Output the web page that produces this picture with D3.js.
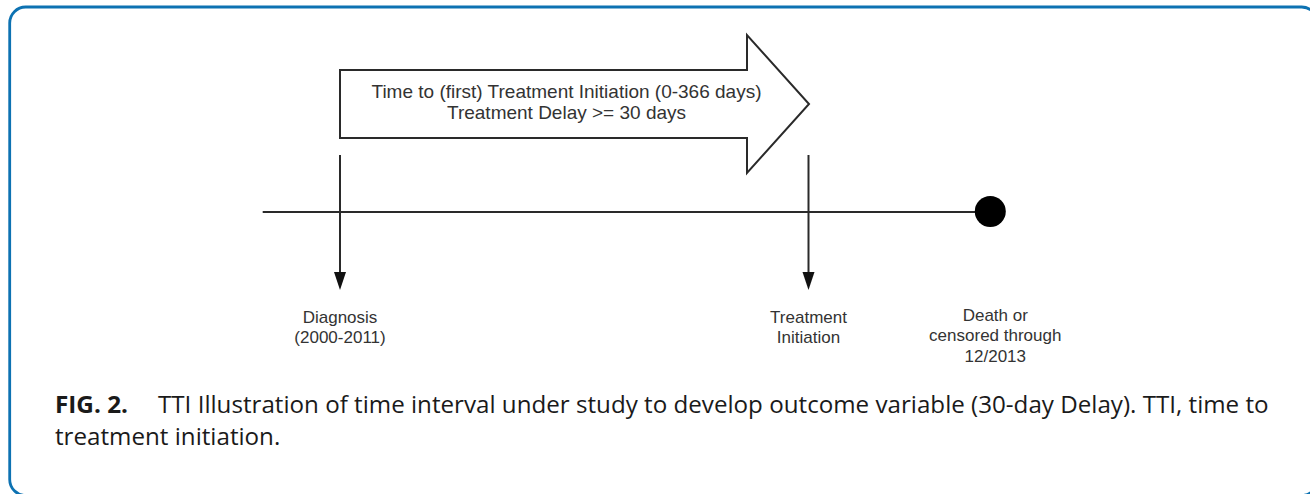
<!DOCTYPE html>
<html>
<head>
<meta charset="utf-8">
<script src="https://cdn.jsdelivr.net/npm/d3@7"></script>
<style>
  html, body { margin: 0; padding: 0; background: #ffffff; }
  svg { display: block; }
</style>
</head>
<body>
<svg id="chart" width="1310" height="494"></svg>
<script>
// ---- data ----
const arrowLines = ["Time to (first) Treatment Initiation (0-366 days)", "Treatment Delay >= 30 days"];
const eventNames = ["Diagnosis", "Treatment Initiation", "Death or censored"];
const eventLabels = [["Diagnosis", "(2000-2011)"], ["Treatment", "Initiation"], ["Death or", "censored through", "12/2013"]];
const eventTimes = [0, 1, 1.388];          // relative timeline position (diagnosis=0, treatment=1)
const eventMarkers = ["arrow", "arrow", "dot"];
const timelineDomain = [-0.165, 1.388];
const captionBold = "FIG. 2.";
const captionLines = ["TTI Illustration of time interval under study to develop outcome variable (30-day Delay). TTI, time to", "treatment initiation."];

// ---- drawing ----
const svg = d3.select("#chart");

// frame
svg.append("rect")
  .attr("x", 9.7).attr("y", 7)
  .attr("width", 1308).attr("height", 488.5)
  .attr("rx", 16).attr("ry", 16)
  .attr("fill", "none")
  .attr("stroke", "#0d72b2")
  .attr("stroke-width", 2.8);

const x = d3.scaleLinear().domain([0, 1]).range([340, 808.5]);
const lineY = 212;

// big arrow (time to treatment)
const bodyTop = 70, bodyBot = 138, headTop = 35, headBot = 173, midY = 104;
const headBase = 747, tip = 809;
const arrowPts = [
  [x(0), bodyTop], [headBase, bodyTop], [headBase, headTop], [tip, midY],
  [headBase, headBot], [headBase, bodyBot], [x(0), bodyBot]
];
svg.append("path")
  .attr("d", d3.line()(arrowPts) + "Z")
  .attr("fill", "#fff")
  .attr("stroke", "#2a2a2a")
  .attr("stroke-width", 2);

svg.selectAll("text.arrowtxt").data(arrowLines).join("text")
  .attr("class", "arrowtxt")
  .attr("x", 566.5)
  .attr("y", (d, i) => 97.5 + i * 21.5)
  .attr("text-anchor", "middle")
  .attr("font-family", "Liberation Sans, Arial, sans-serif")
  .attr("font-size", 19)
  .attr("fill", "#333")
  .text(d => d);

// timeline
svg.append("line")
  .attr("x1", x(timelineDomain[0])).attr("x2", x(timelineDomain[1]))
  .attr("y1", lineY).attr("y2", lineY)
  .attr("stroke", "#2a2a2a").attr("stroke-width", 2);

const events = eventNames.map((n, i) => ({ name: n, t: eventTimes[i], label: eventLabels[i], marker: eventMarkers[i] }));

// down arrows
const arrowEvents = events.filter(e => e.marker === "arrow");
svg.selectAll("line.vdrop").data(arrowEvents).join("line")
  .attr("class", "vdrop")
  .attr("x1", d => x(d.t)).attr("x2", d => x(d.t))
  .attr("y1", 155).attr("y2", 276)
  .attr("stroke", "#2a2a2a").attr("stroke-width", 2);
svg.selectAll("path.vhead").data(arrowEvents).join("path")
  .attr("class", "vhead")
  .attr("d", d => { const cx = x(d.t); return `M${cx - 6},272L${cx + 6},272L${cx},290Z`; })
  .attr("fill", "#111");

// end dot
svg.selectAll("circle.enddot").data(events.filter(e => e.marker === "dot")).join("circle")
  .attr("class", "enddot")
  .attr("cx", d => x(d.t)).attr("cy", lineY - 0.5)
  .attr("r", 15.5)
  .attr("fill", "#000");

// labels
const lbl = svg.selectAll("text.evlabel").data(events).join("text")
  .attr("class", "evlabel")
  .attr("text-anchor", "middle")
  .attr("font-family", "Liberation Sans, Arial, sans-serif")
  .attr("font-size", 17)
  .attr("fill", "#333")
  .attr("transform", d => `translate(${x(d.t) + (d.marker === "dot" ? 5 : 0)},${d.marker === "dot" ? 321 : 322.7})`);
lbl.selectAll("tspan").data(d => d.label).join("tspan")
  .attr("x", 0)
  .attr("y", (d, i) => i * 20.3)
  .text(d => d);

// caption
const capFont = "Open Sans, Noto Sans, sans-serif";
const capSize = 23.5;
const capFill = "#1a1a1a";
const figT = svg.append("text")
  .attr("font-family", capFont).attr("font-size", capSize).attr("font-weight", "bold")
  .attr("fill", capFill).attr("x", 0).attr("y", 0)
  .text(captionBold);
const figW = figT.node().getComputedTextLength();
const kf = 73 / figW;
figT.attr("transform", `translate(55,413) scale(${kf},1)`);

const c1 = svg.append("text")
  .attr("font-family", capFont).attr("font-size", capSize)
  .attr("fill", capFill).attr("x", 0).attr("y", 0)
  .text(captionLines[0]);
const w1 = c1.node().getComputedTextLength();
const k = (1269 - 158) / w1;
c1.attr("transform", `translate(158,413) scale(${k},1)`);

svg.append("text")
  .attr("font-family", capFont).attr("font-size", capSize)
  .attr("fill", capFill).attr("x", 0).attr("y", 0)
  .attr("transform", `translate(55,445) scale(${k},1)`)
  .text(captionLines[1]);
</script>
</body>
</html>
